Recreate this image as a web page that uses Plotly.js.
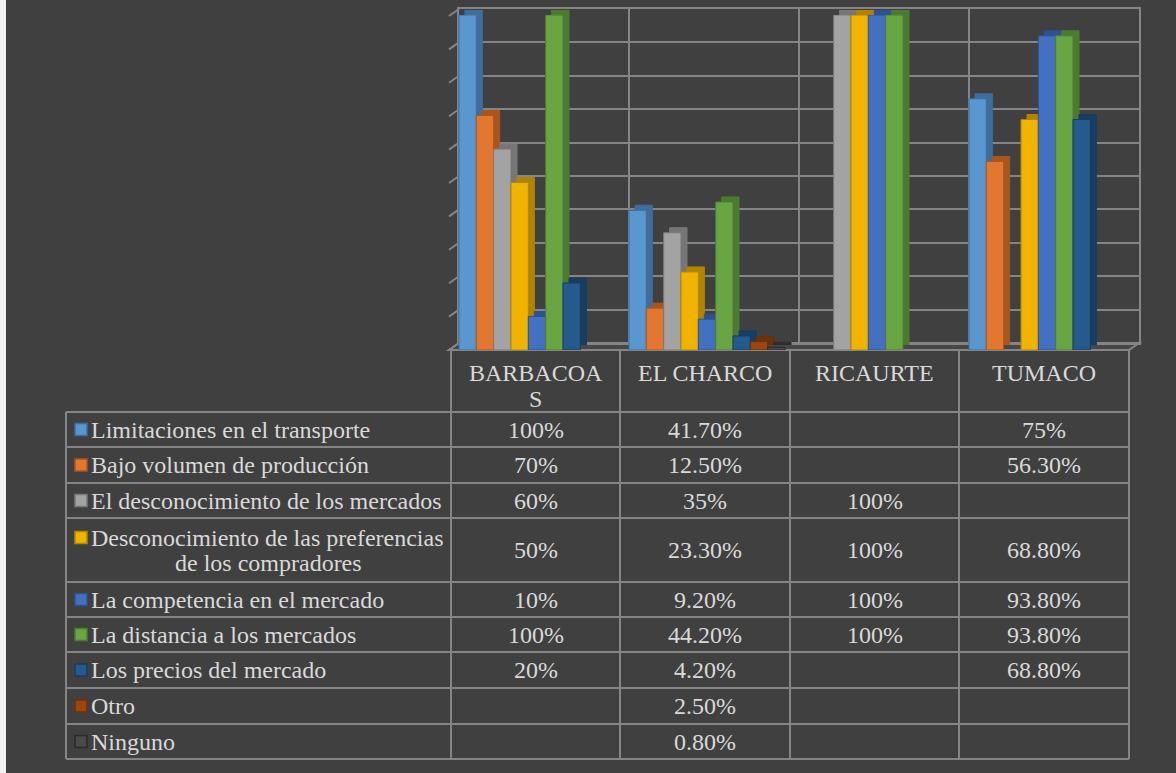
<!DOCTYPE html>
<html>
<head>
<meta charset="utf-8">
<script src="https://cdn.plot.ly/plotly-3.0.1.min.js"></script>
<style>
  html, body { margin: 0; padding: 0; background: #404040; }
  #chart { width: 1176px; height: 773px; }
</style>
</head>
<body>
<div id="chart"></div>
<script>
// ---------- DATA ----------
const categories = ['BARBACOAS', 'EL CHARCO', 'RICAURTE', 'TUMACO'];
const headerLabels = ['BARBACOA<br>S', 'EL CHARCO', 'RICAURTE', 'TUMACO'];

const seriesNames = [
  'Limitaciones en el transporte',
  'Bajo volumen de producción',
  'El desconocimiento de los mercados',
  'Desconocimiento de las preferencias<br>de los compradores',
  'La competencia en el mercado',
  'La distancia a los mercados',
  'Los precios del mercado',
  'Otro',
  'Ninguno'
];

const limitaciones = [100, 41.7, null, 75];
const bajoVolumen  = [70, 12.5, null, 56.3];
const desconMerc   = [60, 35, 100, null];
const desconPref   = [50, 23.3, 100, 68.8];
const competencia  = [10, 9.2, 100, 93.8];
const distancia    = [100, 44.2, 100, 93.8];
const precios      = [20, 4.2, null, 68.8];
const otro         = [null, 2.5, null, null];
const ninguno      = [null, 0.8, null, null];

const seriesValues = [limitaciones, bajoVolumen, desconMerc, desconPref,
                      competencia, distancia, precios, otro, ninguno];

// ---------- STYLE ----------
const frontColors = ['#5a96cf', '#e2772f', '#a3a3a3', '#efb300', '#4370c0',
                     '#6aa544', '#255a8c', '#9a460e', '#4a4a4a'];
const sideColors  = ['#3f6e9c', '#a9551f', '#767676', '#b08300', '#2f518e',
                     '#4b7a30', '#183e62', '#6e310a', '#2e2e2e'];
const edgeColors  = ['#3c6e9e', '#ad561e', '#7a7a7a', '#b48600', '#2e5190',
                     '#4c7c30', '#173d60', '#6b3009', '#2a2a2a'];

const W = 1176, H = 773;
const X = px => px / W;
const Y = py => 1 - py / H;
const BG = '#404040';
const GRID = '#858585';
const TXT = '#d9d9d9';
const FONT = 'Liberation Serif';
const FS = 24;

// wall geometry (pixels)
const wallLeft = 459, wallRight = 1139, wallTop = 9, wallBottom = 343;
const depthX = 10, depthY = 7;
const gridStep = 10, yMax = 100;

// table geometry (pixels)
const colEdges = [66, 451, 620, 790, 959, 1129];
const headerTop = 350;
const rowEdges = [412, 447, 483, 518, 582, 617, 652, 688, 724, 759];
const linePitch = 25;

// ---------- TRACES ----------
// empty trace so the back-wall subplot (x/y) with its gridlines is drawn
const traces = [{ type: 'scatter', x: [], y: [], xaxis: 'x', yaxis: 'y',
                  mode: 'none', hoverinfo: 'skip', showlegend: false }];
seriesValues.forEach((vals, i) => {
  traces.push({
    type: 'bar', x: categories, y: vals, name: seriesNames[i],
    xaxis: 'x2', yaxis: 'y2',
    marker: { color: sideColors[i], line: { color: edgeColors[i], width: 1 } },
    hoverinfo: 'skip', showlegend: false
  });
});
seriesValues.forEach((vals, i) => {
  traces.push({
    type: 'bar', x: categories, y: vals, name: seriesNames[i],
    xaxis: 'x3', yaxis: 'y3',
    marker: { color: frontColors[i], line: { color: edgeColors[i], width: 1 } },
    hoverinfo: 'skip', showlegend: false
  });
});

// ---------- SHAPES ----------
const shapes = [];
const annotations = [];
const line = (x0, y0, x1, y1) => shapes.push({ type: 'line', xref: 'paper', yref: 'paper',
  x0: X(x0), y0: Y(y0), x1: X(x1), y1: Y(y1), line: { color: GRID, width: 2 }, layer: 'below' });

// white strip at left edge
shapes.push({ type: 'rect', xref: 'paper', yref: 'paper', x0: 0, x1: X(6), y0: 0, y1: 1,
  fillcolor: '#f2f2f2', line: { width: 0 }, layer: 'below' });
// floor
shapes.push({ type: 'path', xref: 'paper', yref: 'paper', layer: 'below',
  path: `M ${X(wallLeft - depthX)},${Y(wallBottom + depthY)} L ${X(wallRight - depthX)},${Y(wallBottom + depthY)} ` +
        `L ${X(wallRight)},${Y(wallBottom)} L ${X(wallLeft)},${Y(wallBottom)} Z`,
  fillcolor: '#474747', line: { color: GRID, width: 2 } });
// side wall stubs at each gridline
for (let v = 0; v <= yMax; v += gridStep) {
  const py = wallBottom - v * (wallBottom - wallTop) / yMax;
  line(wallLeft - depthX, py + depthY, wallLeft, py);
}

// table grid
rowEdges.forEach(y => line(colEdges[0], y, colEdges[colEdges.length - 1], y));
line(colEdges[0], rowEdges[0], colEdges[0], rowEdges[rowEdges.length - 1]);
colEdges.slice(1).forEach(x => line(x, headerTop, x, rowEdges[rowEdges.length - 1]));

const txt = (text, x, y, xanchor) => annotations.push({
  text: text, xref: 'paper', yref: 'paper', x: X(x), y: Y(y),
  xanchor: xanchor || 'center', yanchor: 'middle', showarrow: false,
  font: { family: FONT, size: FS, color: TXT }
});

// header labels
headerLabels.forEach((lab, ci) => {
  const cx = (colEdges[ci + 1] + colEdges[ci + 2]) / 2;
  lab.split('<br>').forEach((ln, k) => txt(ln, cx, 373 + k * (linePitch + 1)));
});

// rows
seriesNames.forEach((name, ri) => {
  const top = rowEdges[ri], bot = rowEdges[ri + 1];
  const mid = (top + bot) / 2;
  const lines = name.split('<br>');
  const firstY = mid - (lines.length - 1) * linePitch / 2;
  shapes.push({ type: 'rect', xref: 'paper', yref: 'paper', layer: 'above',
    x0: X(75), x1: X(87), y0: Y(firstY - 6), y1: Y(firstY + 6),
    fillcolor: frontColors[ri], line: { color: edgeColors[ri], width: 1.5 } });
  lines.forEach((ln, k) => {
    if (k === 0) txt(ln, 89, firstY + k * linePitch, 'left');
    else txt(ln, 268, firstY + k * linePitch, 'center');
  });
  categories.forEach((c, ci) => {
    const v = seriesValues[ri][ci];
    if (v === null) return;
    const s = Number.isInteger(v) ? v + '%' : v.toFixed(2) + '%';
    txt(s, (colEdges[ci + 1] + colEdges[ci + 2]) / 2, mid);
  });
});

// ---------- LAYOUT ----------
const hidden = { visible: false, fixedrange: true };
const layout = {
  width: W, height: H,
  margin: { l: 0, r: 0, t: 0, b: 0 },
  paper_bgcolor: BG, plot_bgcolor: 'rgba(0,0,0,0)',
  showlegend: false,
  barmode: 'group', bargap: 0.082, bargroupgap: 0,
  font: { family: FONT, color: TXT, size: FS },
  xaxis: { domain: [X(wallLeft), X(wallRight)], range: [0, 4], dtick: 1, tick0: 0,
           autorange: false, type: 'linear',
           showgrid: true, gridcolor: GRID, gridwidth: 2, zeroline: false,
           showline: true, mirror: true, linecolor: GRID, linewidth: 2,
           showticklabels: false, ticks: '', fixedrange: true },
  yaxis: { domain: [Y(wallBottom), Y(wallTop)], range: [0, yMax], dtick: gridStep, tick0: 0,
           autorange: false, type: 'linear',
           showgrid: true, gridcolor: GRID, gridwidth: 2, zeroline: false,
           showline: true, mirror: true, linecolor: GRID, linewidth: 2,
           showticklabels: false, ticks: '', fixedrange: true },
  xaxis2: Object.assign({ domain: [X(458), X(1138)], anchor: 'y2', type: 'category',
           range: [-0.5, 3.5] }, hidden),
  yaxis2: Object.assign({ domain: [Y(345), Y(10)], anchor: 'x2', range: [0, yMax] }, hidden),
  xaxis3: Object.assign({ domain: [X(452), X(1132)], anchor: 'y3', type: 'category',
           range: [-0.5, 3.5] }, hidden),
  yaxis3: Object.assign({ domain: [Y(350), Y(15)], anchor: 'x3', range: [0, yMax] }, hidden),
  shapes: shapes,
  annotations: annotations
};

Plotly.newPlot('chart', traces, layout, { displayModeBar: false, staticPlot: true });
</script>
</body>
</html>
